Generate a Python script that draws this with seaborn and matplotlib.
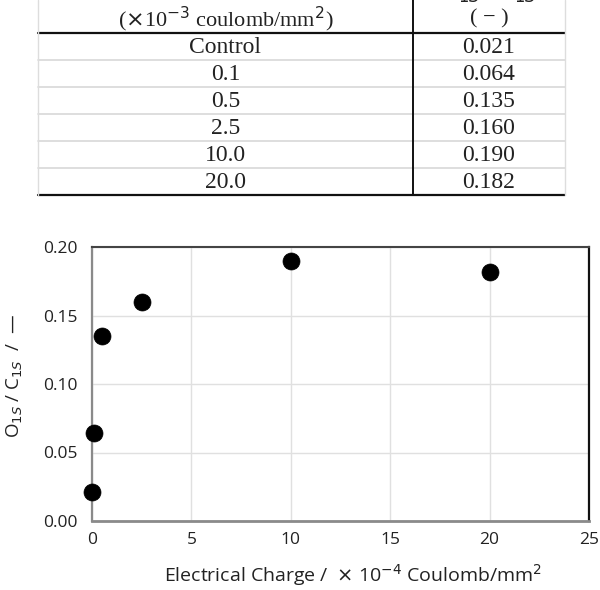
import matplotlib
matplotlib.use("Agg")
import matplotlib.pyplot as plt
import seaborn as sns
import pandas as pd

# ---- data ----
table_labels = ["Control", "0.1", "0.5", "2.5", "10.0", "20.0"]
table_values = ["0.021", "0.064", "0.135", "0.160", "0.190", "0.182"]
charge = [0.0, 0.1, 0.5, 2.5, 10.0, 20.0]
ratio = [0.021, 0.064, 0.135, 0.160, 0.190, 0.182]
x_ticks = [0, 5, 10, 15, 20, 25]
y_ticks = [0.00, 0.05, 0.10, 0.15, 0.20]

sns.set_theme(style="whitegrid")
plt.rcParams['font.family'] = ['Open Sans', 'DejaVu Sans']

W, H = 600, 590
fig = plt.figure(figsize=(W / 100, H / 100), dpi=100)
fig.patch.set_facecolor("white")

# ---- table (drawn in pixel coordinates of the upper figure band) ----
tab = fig.add_axes([0, (H - 200) / H, 1, 200 / H])
tab.set_xlim(0, W)
tab.set_ylim(200, 0)
tab.axis("off")
tl, tr, tdiv = 38, 565, 413
header_bottom = 33
row_h = 27
n = len(table_labels)
bottom = header_bottom + row_h * n
serif = ['Liberation Serif', 'DejaVu Serif']
lc, rc = (tl + tdiv) / 2, (tdiv + tr) / 2

# header text (top line is cut off by the figure edge, as in the reference)
tab.text(rc, -7, r"O$_{1S}$ / C$_{1S}$", ha="center", va="center", fontsize=17,
         family=serif, color="#222222", clip_on=False)
tab.text(lc, 19, r"($\times$10$^{-3}$ coulomb/mm$^{2}$)",
         ha="center", va="center", fontsize=16, family=serif, color="#222222")
tab.text(rc, 19, "( \u2212 )", ha="center", va="center", fontsize=16, family=serif, color="#222222")

for i, (lab, val) in enumerate(zip(table_labels, table_values)):
    yc = header_bottom + row_h * (i + 0.5)
    tab.text(lc, yc + 1, lab, ha="center", va="center", fontsize=17, family=serif, color="#222222")
    tab.text(rc, yc + 1, val, ha="center", va="center", fontsize=17, family=serif, color="#222222")
    if i < n - 1:
        yl = header_bottom + row_h * (i + 1)
        tab.plot([tl, tr], [yl, yl], color="#d8d8d8", lw=1.2)

tab.plot([tl, tr], [header_bottom, header_bottom], color="#111111", lw=1.6)
tab.plot([tl, tr], [bottom, bottom], color="#111111", lw=1.6)
tab.plot([tdiv, tdiv], [0, bottom], color="#111111", lw=1.4)
tab.plot([tl, tl], [0, bottom], color="#dddddd", lw=1.0)
tab.plot([tr, tr], [0, bottom], color="#dddddd", lw=1.0)

# ---- scatter plot ----
ax_l, ax_r, ax_t, ax_b = 92, 589, 247, 521
ax = fig.add_axes([ax_l / W, (H - ax_b) / H, (ax_r - ax_l) / W, (ax_b - ax_t) / H])
df = pd.DataFrame({"charge": charge, "ratio": ratio})
sns.scatterplot(data=df, x="charge", y="ratio", ax=ax, color="black", s=150,
                edgecolor="black", linewidth=0.5, zorder=5, clip_on=False)

ax.set_xlim(0, 25)
ax.set_ylim(0, 0.20)
ax.set_xticks(x_ticks)
ax.set_yticks(y_ticks)
ax.set_xticklabels([str(t) for t in x_ticks])
ax.set_yticklabels([f"{t:.2f}" for t in y_ticks])
ax.set_facecolor("white")
ax.grid(True, color="#e0e0e0", lw=1.0)
ax.tick_params(axis="both", length=0, labelsize=12.5, colors="#222222")
ax.tick_params(axis="y", pad=10)
ax.tick_params(axis="x", pad=8)

ax.spines["left"].set_color("#8a8a8a")
ax.spines["left"].set_linewidth(1.6)
ax.spines["bottom"].set_color("#8a8a8a")
ax.spines["bottom"].set_linewidth(2.0)
ax.spines["top"].set_color("#444444")
ax.spines["top"].set_linewidth(1.5)
ax.spines["right"].set_color("#111111")
ax.spines["right"].set_linewidth(1.6)
for s in ax.spines.values():
    s.set_visible(True)

ax.set_xlabel(r"Electrical Charge /  $\times$ 10$^{-4}$ Coulomb/mm$^{2}$", fontsize=14, color="#222222")
ax.set_ylabel(r"O$_{1S}$ / C$_{1S}$  /  —", fontsize=13.5, color="#222222")
ax.xaxis.set_label_coords(0.525, -0.15)
ax.yaxis.set_label_coords(-0.135, 0.53)

fig.savefig("out.png", dpi=100, facecolor="white")
